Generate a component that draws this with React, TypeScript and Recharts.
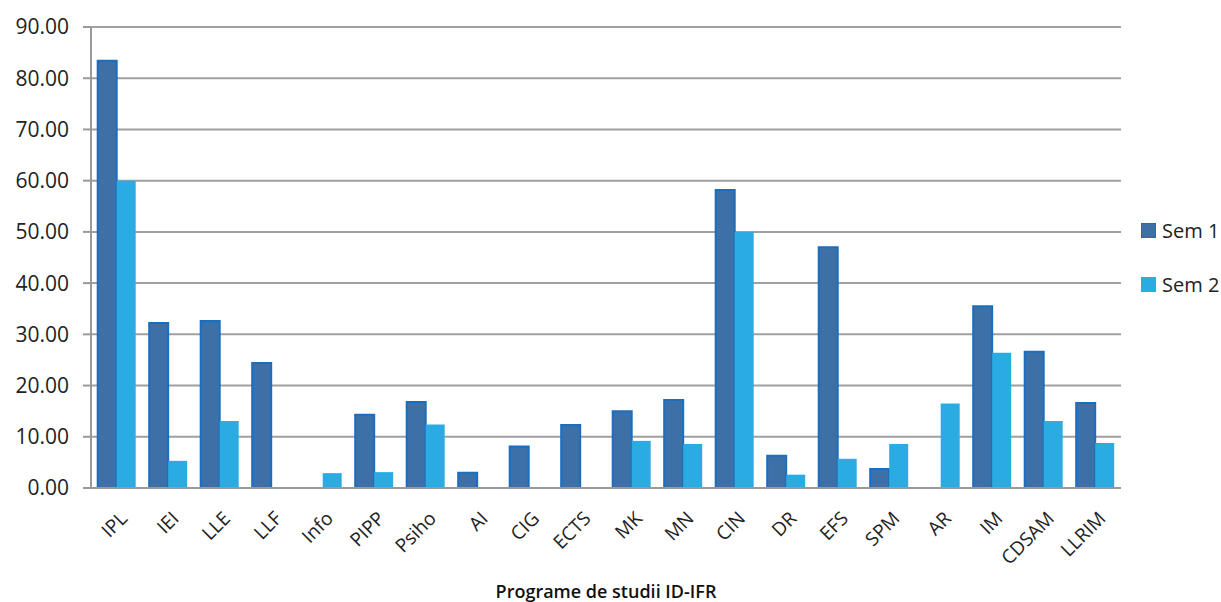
import { BarChart, Bar, XAxis, YAxis, CartesianGrid } from "recharts";

const programs = [
  "IPL", "IEI", "LLE", "LLF", "Info", "PIPP", "Psiho", "AI", "CIG", "ECTS",
  "MK", "MN", "CIN", "DR", "EFS", "SPM", "AR", "IM", "CDSAM", "LLRIM",
];
const sem1 = [83.4, 32.2, 32.6, 24.4, 0, 14.3, 16.8, 3.0, 8.1, 12.3, 15.0, 17.2, 58.2, 6.3, 47.0, 3.7, 0, 35.5, 26.6, 16.6];
const sem2 = [60.0, 5.3, 13.1, 0, 2.9, 3.1, 12.4, 0, 0, 0, 9.2, 8.6, 50.0, 2.6, 5.7, 8.6, 16.5, 26.4, 13.1, 8.8];
const yTicks = [0, 10, 20, 30, 40, 50, 60, 70, 80, 90];

const data = programs.map((name, i) => ({ name, sem1: sem1[i], sem2: sem2[i] }));

const FONT = "'Open Sans', sans-serif";
const SEM1 = "#3d70a6";
const SEM2 = "#2aace2";

const legendItems = [
  { label: "Sem 1", fill: SEM1, stroke: "#1a6dbf" },
  { label: "Sem 2", fill: SEM2, stroke: SEM2 },
];

const XTick = ({ x, y, payload }: any) => (
  <g transform={`translate(${x + 6},${y + 18})`}>
    <text transform="rotate(-45)" textAnchor="end" dy={8} fontSize={19} fill="#222" fontFamily={FONT}>
      {payload.value}
    </text>
  </g>
);

export default function App() {
  return (
    <div style={{ position: "absolute", left: 0, top: 0, width: 1221, height: 602, background: "#fff" }}>
      <BarChart
        width={1221}
        height={602}
        data={data}
        margin={{ top: 27, right: 100, bottom: 0, left: 0 }}
        barCategoryGap="13%"
        barGap={0}
      >
        <CartesianGrid vertical={false} stroke="#a0a0a0" strokeWidth={2} />
        <XAxis
          dataKey="name"
          interval={0}
          tick={<XTick />}
          tickLine={false}
          axisLine={{ stroke: "#999", strokeWidth: 2 }}
          height={114}
          label={{
            value: "Programe de studii ID-IFR",
            position: "insideBottom",
            offset: 4,
            fontSize: 18,
            fontWeight: 600,
            fill: "#111",
            fontFamily: FONT,
          }}
        />
        <YAxis
          width={91}
          domain={[0, 90]}
          ticks={yTicks}
          interval={0}
          tickFormatter={(v: number) => v.toFixed(2)}
          tick={{ fontSize: 21, fill: "#222", fontFamily: FONT }}
          tickLine={{ stroke: "#999", strokeWidth: 2 }}
          tickSize={8}
          tickMargin={14}
          axisLine={{ stroke: "#999", strokeWidth: 2 }}
        />
        <Bar dataKey="sem1" name="Sem 1" fill={SEM1} stroke="#1a6dbf" strokeWidth={2} isAnimationActive={false} />
        <Bar dataKey="sem2" name="Sem 2" fill={SEM2} isAnimationActive={false} />
      </BarChart>
      <div style={{ position: "absolute", left: 1141, top: 203, fontFamily: FONT, fontSize: 20, color: "#222" }}>
        {legendItems.map((it) => (
          <div key={it.label} style={{ display: "flex", alignItems: "center", height: 54 }}>
            <span
              style={{
                display: "inline-block",
                width: 13,
                height: 13,
                background: it.fill,
                border: `1px solid ${it.stroke}`,
                marginRight: 6,
              }}
            />
            {it.label}
          </div>
        ))}
      </div>
    </div>
  );
}
